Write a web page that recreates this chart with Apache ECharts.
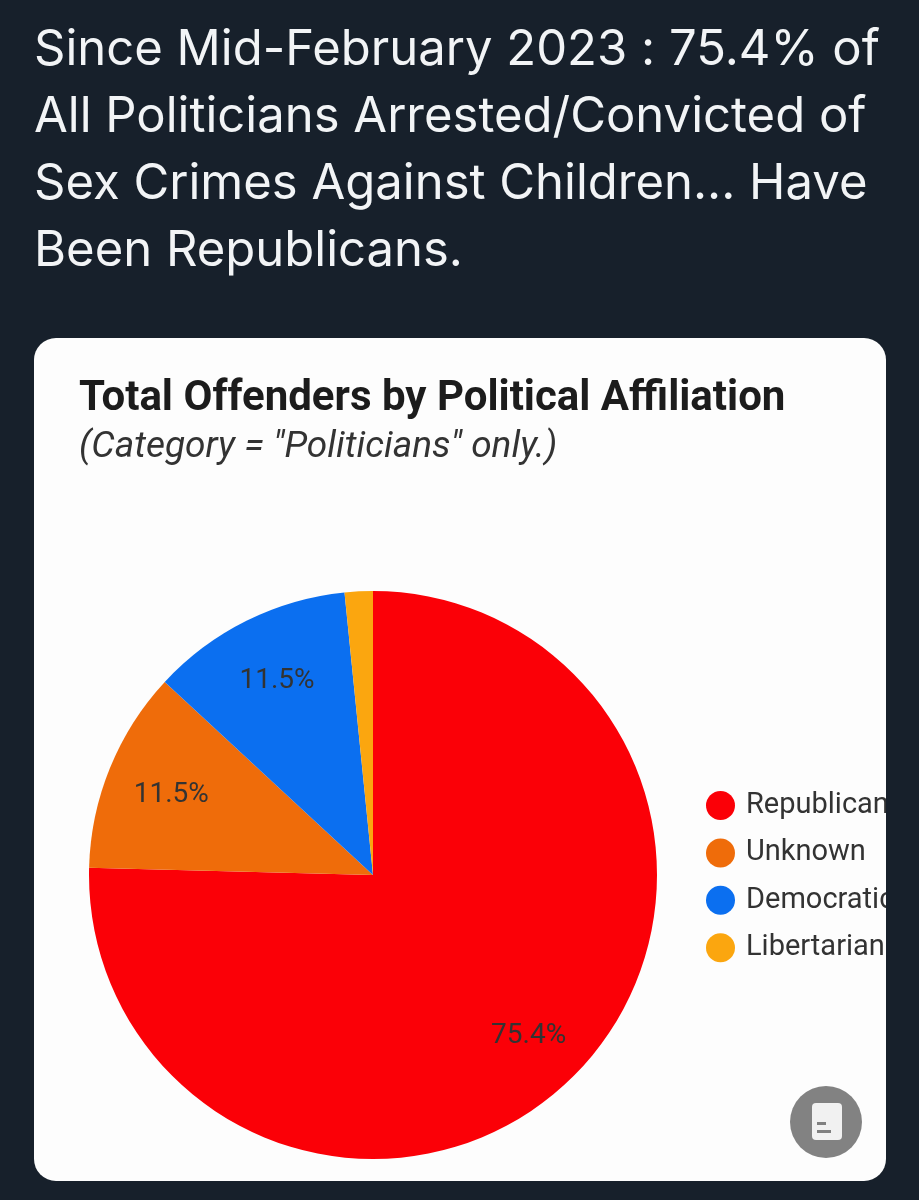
<!DOCTYPE html>
<html>
<head>
<meta charset="utf-8">
<style>html,body{margin:0;padding:0;background:#17202b}#chart{width:919px;height:1200px}</style>
<script src="https://cdn.jsdelivr.net/npm/echarts@6/dist/echarts.min.js"></script>
</head>
<body>
<div id="chart"></div>
<script>
const headline = "Since Mid-February 2023 : 75.4% of\nAll Politicians Arrested/Convicted of\nSex Crimes Against Children... Have\nBeen Republicans.";
const chartTitle = "Total Offenders by Political Affiliation";
const chartSubtitle = '(Category = "Politicians" only.)';
const affiliations = ["Republican", "Unknown", "Democratic", "Libertarian"];
const shares = [75.4, 11.5, 11.5, 1.6];
const shownLabels = ["75.4%", "11.5%", "11.5%", ""];
const colours = ["#fb0007", "#ef6c0a", "#0b6ff0", "#fba60f"];

const font = "Roboto";
const slices = affiliations.map((name, i) => ({ name, value: shares[i] }));

const chart = echarts.init(document.getElementById("chart"), null, { renderer: "canvas" });
chart.setOption({
  animation: false,
  backgroundColor: "#17202b",
  color: colours,
  title: [
    { text: headline, left: 34, top: 17, padding: 0,
      textStyle: { color: "#f2f4f6", fontFamily: "Inter", fontSize: 49, fontWeight: 400, lineHeight: 67 } },
    { text: chartTitle, left: 79, top: 378, padding: 0,
      textStyle: { color: "#1c1c1c", fontFamily: font, fontSize: 42, fontWeight: 700 } },
    { text: chartSubtitle, left: 79, top: 429, padding: 0,
      textStyle: { color: "#333333", fontFamily: font, fontSize: 37, fontWeight: 400, fontStyle: "italic" } }
  ],
  legend: {
    orient: "vertical", left: 706, top: 791, padding: 0,
    data: affiliations, icon: "circle",
    itemWidth: 29, itemHeight: 29, itemGap: 18.4,
    textStyle: { color: "#333333", fontFamily: font, fontSize: 29, padding: [0, 0, 0, 6] },
    selectedMode: false
  },
  series: [
    { // the slices themselves
      type: "pie", center: [373, 875], radius: [0, 284],
      startAngle: 90, clockwise: true, silent: true,
      label: { show: false }, labelLine: { show: false },
      emphasis: { disabled: true },
      data: slices
    },
    { // transparent ring that places the percentage labels toward the rim
      type: "pie", center: [375, 878], radius: [150, 284],
      startAngle: 90, clockwise: true, silent: true,
      itemStyle: { color: "rgba(0,0,0,0)" },
      labelLine: { show: false }, avoidLabelOverlap: false,
      emphasis: { disabled: true },
      label: {
        show: true, position: "inside",
        formatter: p => shownLabels[p.dataIndex],
        color: "#333333", fontFamily: font, fontSize: 28
      },
      data: slices
    }
  ],
  graphic: [
    { type: "rect", z: -1, shape: { x: 34, y: 338, width: 852, height: 843, r: 22 }, style: { fill: "#fdfdfd" } },
    // page background past the card's right edge trims the legend text
    { type: "rect", z: 100, shape: { x: 886, y: 770, width: 33, height: 200 }, style: { fill: "#17202b" } },
    { type: "circle", z: 101, shape: { cx: 826, cy: 1122, r: 36 }, style: { fill: "#828282" } },
    { type: "rect", z: 102, shape: { x: 812, y: 1103, width: 30, height: 37, r: 4 }, style: { fill: "#f1f1f1" } },
    { type: "rect", z: 103, shape: { x: 817, y: 1122, width: 9, height: 3 }, style: { fill: "#808080" } },
    { type: "rect", z: 103, shape: { x: 817, y: 1130, width: 14, height: 3 }, style: { fill: "#808080" } }
  ]
});
</script>
</body>
</html>
